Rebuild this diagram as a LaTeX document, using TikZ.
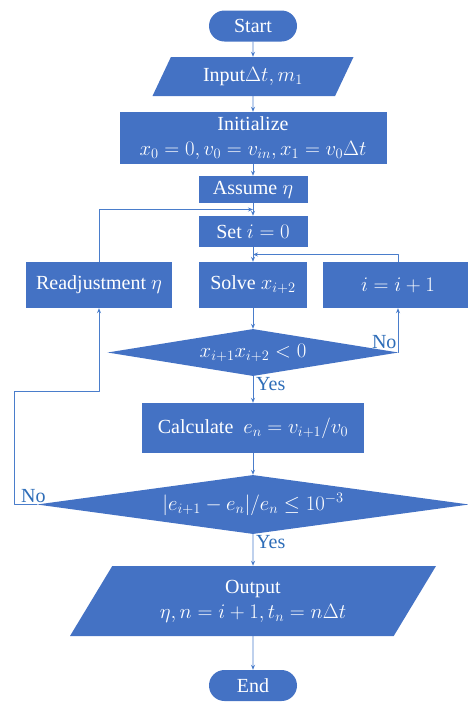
\documentclass[tikz,border=0pt]{standalone}
\usepackage{fontspec}
\setmainfont{Liberation Serif}
\usetikzlibrary{shapes.geometric,shapes.misc,arrows.meta,calc}
\definecolor{boxblue}{HTML}{4472C4}
\definecolor{lineblue}{HTML}{4A7DCB}
\definecolor{lblblue}{HTML}{2E6DB8}
\begin{document}
\begin{tikzpicture}[x=1pt, y=-1pt, font=\fontsize{20}{25}\selectfont, line join=round, >={Stealth[length=5pt,width=4pt]},
	blk/.style={rectangle, fill=boxblue, text=white, inner sep=0pt, align=center},
	term/.style={blk, rounded rectangle, minimum width=88pt, minimum height=31pt},
	io/.style={blk, trapezium, trapezium left angle=45, trapezium right angle=135, trapezium stretches body},
	test/.style={blk, diamond},
	flow/.style={draw=lineblue, line width=0.8pt, ->},
	lbl/.style={text=lblblue, inner sep=1pt}]
	\useasboundingbox (0,0) rectangle (467,702);
	% main column
	\node[term] (start) at (253,26) {Start};
	\node[io, minimum width=201pt, minimum height=39pt] (input) at (253,76.5) {Input$\Delta t, m_1$};
	\node[blk, minimum width=267pt, minimum height=52pt] (init) at (253,138) {Initialize\\$x_0=0, v_0=v_{in}, x_1=v_0\Delta t$};
	\node[blk, minimum width=109pt, minimum height=27pt] (assume) at (253,189.5) {Assume\ $\eta$};
	\node[blk, minimum width=109pt, minimum height=31pt] (set) at (253,231.5) {Set $i=0$};
	\node[blk, minimum width=108pt, minimum height=46pt] (solve) at (253,285) {Solve $x_{i+2}$};
	\node[blk, minimum width=146pt, minimum height=46pt] (readj) at (99,285) {Readjustment\ $\eta$};
	\node[blk, minimum width=150pt, minimum height=46pt] (incr) at (398,285) {$i=i+1$};
	\node[test, aspect=6.2, minimum width=291pt, minimum height=47pt] (d1) at (253,352.5) {$x_{i+1}x_{i+2}<0$};
	\node[blk, minimum width=222pt, minimum height=50pt] (calc) at (253,428) {Calculate\ \ $e_n=v_{i+1}/v_0$};
	\node[test, aspect=7.3, minimum width=432pt, minimum height=59pt] (d2) at (253,504.5) {$|e_{i+1}-e_n|/e_n\le 10^{-3}$};
	\node[io, minimum width=366pt, minimum height=70pt] (output) at (253,601) {Output\\$\eta, n=i+1, t_n=n\Delta t$};
	\node[term] (end) at (253,685.5) {End};
	\coordinate (j1) at ($(set.south)!.5!(solve.north)$);
	\coordinate (j2) at ($(assume.south)!.5!(set.north)$);
	\coordinate (n1) at (14,391);
	% connectors
	\foreach \a/\b in {start/input,input/init,init/assume,assume/set,set/solve,solve/d1,d1/calc,calc/d2,d2/output,output/end}
		\draw[flow] (\a) -- (\b);
	\draw[flow] (d1.east) -| (incr.south);
	\draw[flow] (incr.north) |- (j1);
	\draw[flow] (d2.west) -| (n1) -| (readj.south);
	\draw[flow] (readj.north) |- (j2);
	% labels
	\node[lbl, anchor=south east] at ([xshift=-1pt,yshift=3pt]d1.east) {No};
	\node[lbl, anchor=north west] at ([xshift=2pt]d1.south) {Yes};
	\node[lbl, anchor=north west] at ([xshift=2pt]d2.south) {Yes};
	\node[lbl, anchor=south west] at ([xshift=6pt,yshift=1pt]d2.west -| n1) {No};
\end{tikzpicture}
\end{document}
